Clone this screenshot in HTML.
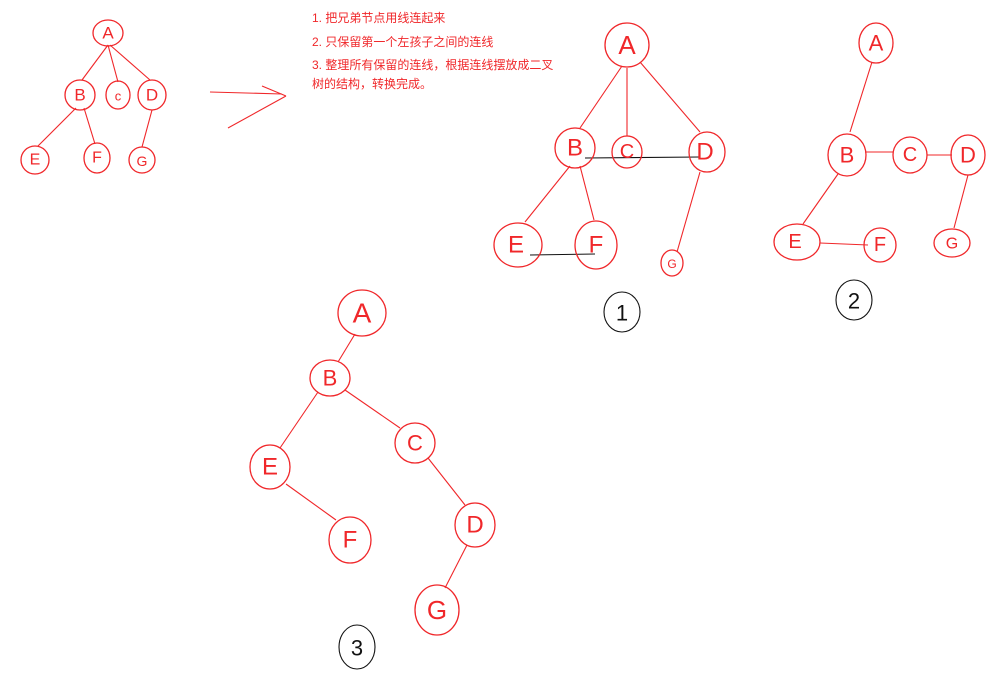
<!DOCTYPE html>
<html><head><meta charset="utf-8"><style>
html,body{margin:0;padding:0;background:#fff;}
svg{display:block}
.n{fill:none;stroke:#f0272a;stroke-width:1.3}
.l{stroke:#f0272a;stroke-width:1.1;fill:none}
.k{stroke:#111;stroke-width:1.1;fill:none}
.t{font-family:"Liberation Sans",sans-serif;fill:#f0272a;text-anchor:middle;dominant-baseline:central}
.tx{font-family:"Liberation Sans","Noto Sans CJK SC",sans-serif;font-size:12px;fill:#f0272a}
</style></head><body>
<svg width="1000" height="697" xmlns="http://www.w3.org/2000/svg">
<!-- tree 0 -->
<g>
<line class="l" x1="108" y1="45" x2="82" y2="80"/><line class="l" x1="108" y1="45" x2="118" y2="82"/><line class="l" x1="110" y1="45" x2="150" y2="80"/>
<line class="l" x1="76" y1="108" x2="38" y2="146"/><line class="l" x1="84" y1="108" x2="95" y2="144"/><line class="l" x1="152" y1="110" x2="142" y2="147"/>
<ellipse class="n" cx="108" cy="33" rx="15" ry="13"/><text class="t" x="108" y="33" font-size="17">A</text>
<ellipse class="n" cx="80" cy="95" rx="15" ry="15"/><text class="t" x="80" y="95" font-size="17">B</text>
<ellipse class="n" cx="118" cy="95" rx="12" ry="14"/><text class="t" x="118" y="96" font-size="13">c</text>
<ellipse class="n" cx="152" cy="95" rx="14" ry="15"/><text class="t" x="152" y="95" font-size="17">D</text>
<ellipse class="n" cx="35" cy="160" rx="14" ry="14"/><text class="t" x="35" y="160" font-size="16">E</text>
<ellipse class="n" cx="97" cy="158" rx="13" ry="15"/><text class="t" x="97" y="158" font-size="16">F</text>
<ellipse class="n" cx="142" cy="160" rx="13" ry="13"/><text class="t" x="142" y="161" font-size="14">G</text>
</g>
<!-- arrow -->
<line class="l" x1="210" y1="92" x2="282" y2="94"/><line class="l" x1="228" y1="128" x2="286" y2="96"/><line class="l" x1="262" y1="86" x2="286" y2="96"/>
<!-- text -->
<text class="tx" x="312" y="22">1.  把兄弟节点用线连起来</text>
<text class="tx" x="312" y="46">2.  只保留第一个左孩子之间的连线</text>
<text class="tx" x="312" y="69">3.  整理所有保留的连线，根据连线摆放成二叉</text>
<text class="tx" x="312" y="88">树的结构，转换完成。</text>
<!-- tree 1 -->
<g>
<line class="l" x1="622" y1="66" x2="580" y2="128"/><line class="l" x1="627" y1="68" x2="627" y2="136"/><line class="l" x1="640" y1="62" x2="700" y2="132"/>
<line class="l" x1="570" y1="166" x2="525" y2="222"/><line class="l" x1="580" y1="166" x2="594" y2="220"/><line class="l" x1="700" y1="172" x2="677" y2="252"/>
<line class="k" x1="585" y1="158" x2="700" y2="157"/><line class="k" x1="530" y1="255" x2="595" y2="254"/>
<ellipse class="n" cx="627" cy="45" rx="22" ry="22"/><text class="t" x="627" y="45" font-size="26">A</text>
<ellipse class="n" cx="575" cy="148" rx="20" ry="20"/><text class="t" x="575" y="148" font-size="24">B</text>
<ellipse class="n" cx="627" cy="152" rx="15" ry="16"/><text class="t" x="627" y="152" font-size="20">C</text>
<ellipse class="n" cx="707" cy="152" rx="18" ry="20"/><text class="t" x="705" y="152" font-size="24">D</text>
<ellipse class="n" cx="518" cy="245" rx="24" ry="22"/><text class="t" x="516" y="245" font-size="24">E</text>
<ellipse class="n" cx="596" cy="245" rx="21" ry="24"/><text class="t" x="596" y="245" font-size="24">F</text>
<ellipse class="n" cx="672" cy="263" rx="11" ry="13"/><text class="t" x="672" y="264" font-size="12">G</text>
<ellipse class="k" cx="622" cy="312" rx="18" ry="20"/><text x="622" y="313" font-size="22" font-family="Liberation Sans,sans-serif" text-anchor="middle" dominant-baseline="central" fill="#111">1</text>
</g>
<!-- tree 2 -->
<g>
<line class="l" x1="872" y1="62" x2="850" y2="132"/><line class="l" x1="865" y1="152" x2="893" y2="152"/><line class="l" x1="927" y1="155" x2="952" y2="155"/>
<line class="l" x1="838" y1="174" x2="803" y2="224"/><line class="l" x1="820" y1="243" x2="868" y2="245"/><line class="l" x1="968" y1="175" x2="954" y2="228"/>
<ellipse class="n" cx="876" cy="43" rx="17" ry="20"/><text class="t" x="876" y="43" font-size="22">A</text>
<ellipse class="n" cx="847" cy="155" rx="19" ry="21"/><text class="t" x="847" y="155" font-size="22">B</text>
<ellipse class="n" cx="910" cy="155" rx="17" ry="18"/><text class="t" x="910" y="155" font-size="20">C</text>
<ellipse class="n" cx="968" cy="155" rx="17" ry="20"/><text class="t" x="968" y="155" font-size="22">D</text>
<ellipse class="n" cx="797" cy="242" rx="23" ry="18"/><text class="t" x="795" y="242" font-size="20">E</text>
<ellipse class="n" cx="880" cy="245" rx="16" ry="17"/><text class="t" x="880" y="245" font-size="20">F</text>
<ellipse class="n" cx="952" cy="243" rx="18" ry="14"/><text class="t" x="952" y="244" font-size="16">G</text>
<ellipse class="k" cx="854" cy="300" rx="18" ry="20"/><text x="854" y="301" font-size="22" font-family="Liberation Sans,sans-serif" text-anchor="middle" dominant-baseline="central" fill="#111">2</text>
</g>
<!-- tree 3 -->
<g>
<line class="l" x1="355" y1="334" x2="338" y2="362"/><line class="l" x1="318" y1="392" x2="280" y2="448"/><line class="l" x1="345" y1="390" x2="400" y2="428"/>
<line class="l" x1="286" y1="484" x2="336" y2="520"/><line class="l" x1="428" y1="458" x2="465" y2="505"/><line class="l" x1="467" y1="545" x2="445" y2="588"/>
<ellipse class="n" cx="362" cy="313" rx="24" ry="23"/><text class="t" x="362" y="313" font-size="28">A</text>
<ellipse class="n" cx="330" cy="378" rx="20" ry="18"/><text class="t" x="330" y="378" font-size="22">B</text>
<ellipse class="n" cx="270" cy="467" rx="20" ry="22"/><text class="t" x="270" y="467" font-size="24">E</text>
<ellipse class="n" cx="350" cy="540" rx="21" ry="23"/><text class="t" x="350" y="540" font-size="24">F</text>
<ellipse class="n" cx="415" cy="443" rx="20" ry="20"/><text class="t" x="415" y="443" font-size="22">C</text>
<ellipse class="n" cx="475" cy="525" rx="20" ry="22"/><text class="t" x="475" y="525" font-size="24">D</text>
<ellipse class="n" cx="437" cy="610" rx="22" ry="25"/><text class="t" x="437" y="610" font-size="26">G</text>
<ellipse class="k" cx="357" cy="647" rx="18" ry="22"/><text x="357" y="648" font-size="22" font-family="Liberation Sans,sans-serif" text-anchor="middle" dominant-baseline="central" fill="#111">3</text>
</g>
</svg>
</body></html>
